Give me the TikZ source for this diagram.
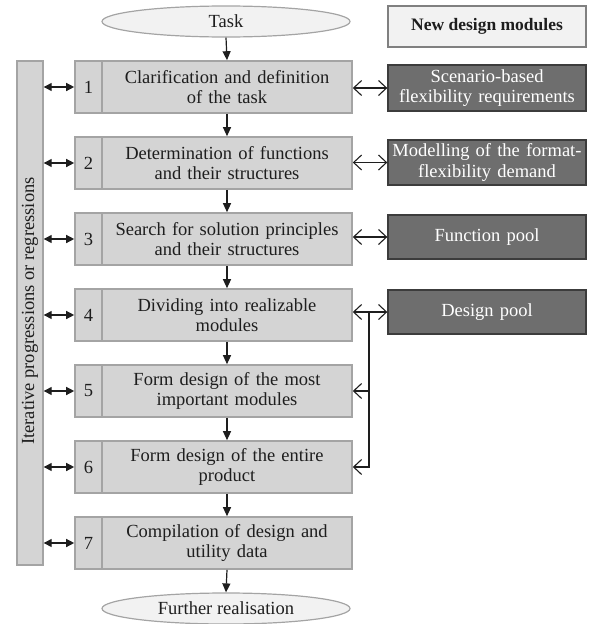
\documentclass[tikz,border=0pt]{standalone}
\usepackage{fontspec}
\setmainfont{Liberation Serif}
\usetikzlibrary{shapes.geometric,arrows.meta,calc}
\definecolor{lightfill}{HTML}{D4D4D4}
\definecolor{lightline}{HTML}{A4A4A4}
\definecolor{darkfill}{HTML}{6E6E6E}
\definecolor{darkline}{HTML}{3C3C3C}
\definecolor{ellfill}{HTML}{F2F2F2}
\definecolor{txt}{HTML}{1E1E1E}
\tikzset{
  bigfont/.style={font=\fontsize{18.5}{20.5}\selectfont},
  stepbox/.style={draw=lightline, fill=lightfill, line width=1.6pt, minimum height=52pt, inner sep=0pt, text=txt, align=center, bigfont},
  numbox/.style={stepbox, minimum width=27pt},
  mainbox/.style={stepbox, minimum width=250pt, text width=246pt},
  darkbox/.style={draw=darkline, fill=darkfill, line width=1.4pt, minimum width=198pt, text width=198pt, inner sep=0pt, text=white, align=center, bigfont},
  term/.style={ellipse, draw=lightline, fill=ellfill, line width=1.2pt, minimum width=248pt, minimum height=31pt, inner sep=0pt, text=txt, bigfont},
  flow/.style={-{Triangle[length=9pt,width=8pt]}, line width=1.2pt, draw=txt},
  lr/.style={{Triangle[length=8pt,width=8pt]}-{Triangle[length=8pt,width=8pt]}, line width=1.3pt, draw=txt},
  openarr/.style={{Straight Barb[length=8pt,width=15pt]}-{Straight Barb[length=8pt,width=15pt]}, line width=1.1pt, draw=txt},
  openend/.style={-{Straight Barb[length=8pt,width=15pt]}, line width=1.1pt, draw=txt}
}
\begin{document}
\begin{tikzpicture}[x=1pt,y=-1pt]
\useasboundingbox (0,0) rectangle (590,624);
\node[term] (task) at (226,21.5) {Task};
\node[draw=gray, fill=ellfill, line width=1.4pt, minimum width=198pt, minimum height=41pt, inner sep=0pt, text=txt, font=\bfseries\fontsize{17.5}{20}\selectfont] (ndm) at (487,26.5) {New design modules};
\node[draw=lightline, fill=lightfill, line width=1.4pt, minimum width=26pt, minimum height=504pt, inner sep=0pt] (bar) at (30,313) {};
\node[rotate=90, text=txt, bigfont] (bartext) at (30,311) {Iterative progressions or regressions};

\foreach \i/\yc/\t in {1/87/{Clarification and definition\\of the task},
                      2/163/{Determination of functions\\and their structures},
                      3/239/{Search for solution principles\\and their structures},
                      4/315/{Dividing into realizable\\modules},
                      5/391/{Form design of the most\\important modules},
                      6/467/{Form design of the entire\\product},
                      7/543/{Compilation of design and\\utility data}}{
  \node[numbox] (num\i) at (88.5,\yc) {\i};
  \node[mainbox] (main\i) at (227,\yc) {\t};
  \draw[lr] (bar.east |- num\i.west) -- (num\i.west);
}
\node[term] (further) at (226,608.5) {Further realisation};

\draw[flow] (task.south) -- (main1.north);
\draw[flow] (main1.south) -- (main2.north);
\draw[flow] (main2.south) -- (main3.north);
\draw[flow] (main3.south) -- (main4.north);
\draw[flow] (main4.south) -- (main5.north);
\draw[flow] (main5.south) -- (main6.north);
\draw[flow] (main6.south) -- (main7.north);
\draw[flow] (main7.south) -- (further.north);

\node[darkbox, minimum height=46pt] (sbf) at (487,88) {Scenario-based\\flexibility requirements};
\node[darkbox, minimum height=45pt] (mff) at (487,162.5) {Modelling of the format-\\flexibility demand};
\node[darkbox, minimum height=44pt] (fp) at (487,237) {Function pool};
\node[darkbox, minimum height=44pt] (dp) at (487,312) {Design pool};

\draw[openarr] (main1.east |- sbf.west) -- (sbf.west);
\draw[openarr] (main2.east |- mff.west) -- (mff.west);
\draw[openarr] (main3.east |- fp.west) -- (fp.west);
\draw[openarr] (main4.east |- dp.west) -- (dp.west);

\coordinate (j) at (369,312);
\draw[openend] (j) |- (main6.east);
\draw[openend] (j |- main5.east) -- (main5.east);
\end{tikzpicture}
\end{document}
